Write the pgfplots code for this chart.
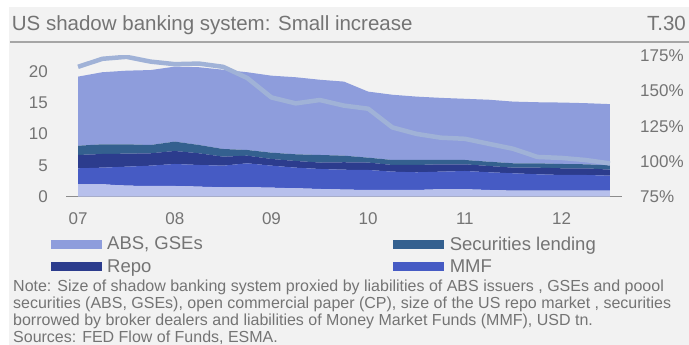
\documentclass[border=0pt]{standalone}
\usepackage{fontspec}
\setmainfont{Liberation Sans}
\usepackage{pgfplots}
\pgfplotsset{compat=1.18}
\definecolor{bg}{HTML}{F2F2F2}
\definecolor{txt}{HTML}{747474}
\definecolor{cCP}{HTML}{B7C0EC}
\definecolor{cMMF}{HTML}{465BC4}
\definecolor{cRepo}{HTML}{2C3C8D}
\definecolor{cSL}{HTML}{34608F}
\definecolor{cABS}{HTML}{8E9DDC}
\definecolor{cLine}{HTML}{A0B2D7}
\definecolor{axisgray}{HTML}{8C8C8C}
\definecolor{rulec}{HTML}{A6A6A6}
\begin{document}
\begin{tikzpicture}[x=1pt,y=1pt]
\path[use as bounding box] (0pt,0pt) rectangle (689pt,345pt);
\fill[white] (0pt,0pt) rectangle (689pt,345pt);
\fill[bg] (9pt,0pt) rectangle (689pt,338pt);
\node[anchor=base west, inner sep=0pt, text=txt, font=\fontsize{20.5}{24}\selectfont] at (11.7pt,314.3pt) {US shadow banking system: Small increase};
\node[anchor=base east, inner sep=0pt, text=txt, font=\fontsize{20.5}{24}\selectfont] at (686pt,314.3pt) {T.30};
\draw[rulec, line width=1.3pt] (10pt,303pt) -- (689pt,303pt);

\begin{axis}[
  at={(66pt,148.4pt)}, anchor=south west, scale only axis,
  width=556pt, height=140.6pt,
  xmin=-0.5, xmax=22.5, ymin=0, ymax=22.5,
  axis lines*=left,
  y axis line style={draw=none},
  x axis line style={-, draw=axisgray, line width=1.5pt},
  major tick length=0pt,
  xtick={0,4,8,12,16,20}, xticklabels={07,08,09,10,11,12},
  ytick={0,5,10,15,20},
  /pgf/number format/assume math mode=true,
  tick label style={font=\fontsize{17}{20}\selectfont, text=txt, inner sep=0pt},
  yticklabel style={anchor=east, xshift=-18pt},
  xticklabel style={anchor=north, yshift=-16pt},
  stack plots=y,
  legend image code/.code={\fill[#1] (0pt,-4.5pt) rectangle (51pt,4.5pt); \path (54.5pt,0pt);},
  reverse legend,
  legend columns=2,
  legend cell align=left,
  legend style={at={(-0.0279,-0.2696)}, anchor=north west, draw=none, fill=none,
    inner sep=0pt, font=\fontsize{18.5}{21}\selectfont, text=txt,
    /tikz/every even column/.append style={column sep=188.5pt}, row sep=4pt},
]
\addplot[fill=cCP, draw=none, forget plot] coordinates {
(0,1.97)(1,1.97)(2,1.75)(3,1.70)(4,1.70)(5,1.59)(6,1.49)(7,1.49)(8,1.43)(9,1.33)(10,1.22)(11,1.12)(12,1.06)(13,1.06)(14,1.06)(15,1.17)(16,1.17)(17,1.06)(18,0.94)(19,0.94)(20,0.94)(21,0.94)(22,0.94)} \closedcycle;
\addplot[fill=cMMF, draw=none] coordinates {
(0,2.56)(1,2.66)(2,3.04)(3,3.25)(4,3.52)(5,3.47)(6,3.46)(7,3.84)(8,3.52)(9,3.30)(10,3.20)(11,3.18)(12,3.20)(13,2.93)(14,2.83)(15,2.82)(16,2.93)(17,2.83)(18,2.79)(19,2.63)(20,2.52)(21,2.52)(22,2.41)} \closedcycle;
\addlegendentry{MMF}
\addplot[fill=cRepo, draw=none] coordinates {
(0,2.13)(1,2.19)(2,2.08)(3,1.98)(4,2.08)(5,1.87)(6,1.44)(7,1.22)(8,1.07)(9,1.07)(10,1.03)(11,1.20)(12,1.19)(13,1.07)(14,1.17)(15,1.18)(16,1.07)(17,1.01)(18,0.90)(19,1.06)(20,1.07)(21,1.07)(22,0.96)} \closedcycle;
\addlegendentry{Repo}
\addplot[fill=cSL, draw=none] coordinates {
(0,1.48)(1,1.55)(2,1.50)(3,1.33)(4,1.50)(5,1.33)(6,1.23)(7,0.91)(8,1.01)(9,1.07)(10,1.21)(11,1.05)(12,0.78)(13,0.80)(14,0.80)(15,0.69)(16,0.69)(17,0.68)(18,0.70)(19,0.70)(20,0.69)(21,0.64)(22,0.69)} \closedcycle;
\addlegendentry{Securities lending}
\addplot[fill=cABS, draw=none] coordinates {
(0,11.06)(1,11.53)(2,11.78)(3,11.99)(4,12.00)(5,12.44)(6,12.68)(7,12.44)(8,12.32)(9,12.33)(10,12.04)(11,11.85)(12,10.57)(13,10.44)(14,10.14)(15,9.94)(16,9.79)(17,9.92)(18,9.87)(19,9.77)(20,9.83)(21,9.78)(22,9.80)} \closedcycle;
\addlegendentry{ABS, GSEs}
\end{axis}

\begin{axis}[
  at={(66pt,148.4pt)}, anchor=south west, scale only axis,
  width=556pt, height=140.6pt,
  xmin=-0.5, xmax=22.5, ymin=75, ymax=175,
  axis y line*=right, axis x line=none,
  y axis line style={draw=none},
  major tick length=0pt,
  xtick=\empty,
  ytick={75,100,125,150,175},
  yticklabel={\pgfmathprintnumber{\tick}\%},
  /pgf/number format/assume math mode=true,
  yticklabel style={font=\fontsize{17}{20}\selectfont, text=txt, inner sep=0pt, anchor=west, xshift=18pt},
]
\addplot[cLine, line width=4.5pt, line join=round] coordinates {
(0,167.3)(1,173)(2,174.4)(3,171)(4,169.2)(5,169.6)(6,167.3)(7,159.3)(8,145.5)(9,141.3)(10,143.7)(11,139.7)(12,137.5)(13,124.2)(14,119.6)(15,116.9)(16,116.1)(17,112.5)(18,109)(19,103.2)(20,102.5)(21,101)(22,98.6)};
\end{axis}

\begin{scope}[every node/.style={anchor=base west, inner sep=0pt, text=txt, font=\fontsize{16}{17}\selectfont}]
\node at (13pt,53pt) {Note: Size of shadow banking system proxied by liabilities of ABS issuers , GSEs and poool};
\node at (13pt,36pt) {securities (ABS, GSEs), open commercial paper (CP), size of the US repo market , securities};
\node at (13pt,19pt) {borrowed by broker dealers and liabilities of Money Market Funds (MMF), USD tn.};
\node at (13pt,2pt) {Sources: FED Flow of Funds, ESMA.};
\end{scope}
\end{tikzpicture}
\end{document}
